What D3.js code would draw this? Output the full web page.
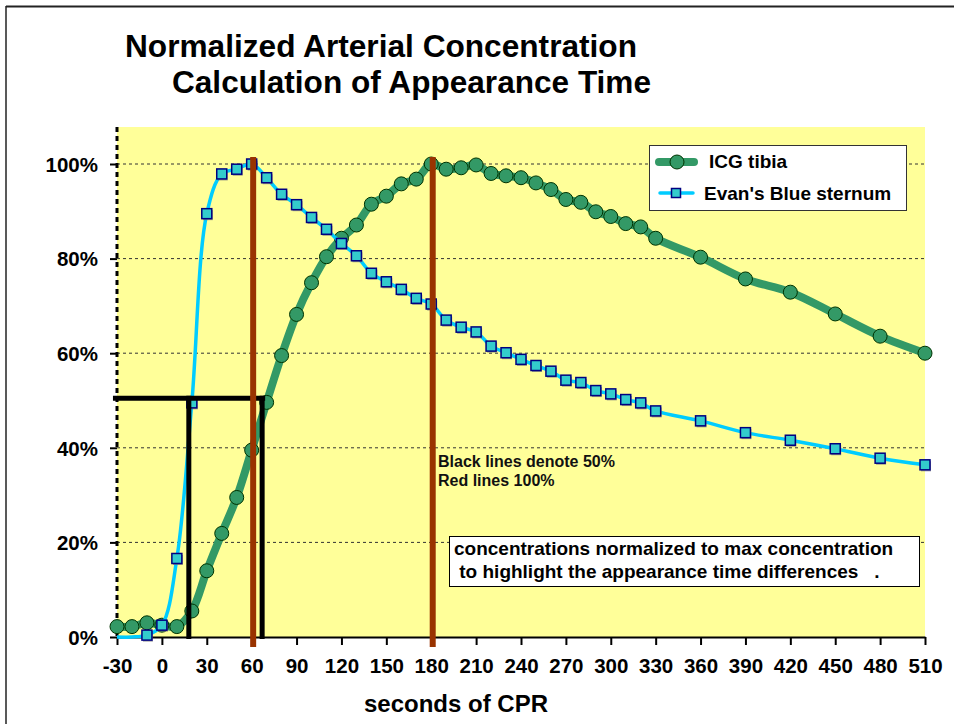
<!DOCTYPE html>
<html>
<head>
<meta charset="utf-8">
<script src="https://cdn.jsdelivr.net/npm/d3@7"></script>
<style>
  body { margin: 0; background: #fff; }
  svg { font-family: "Liberation Sans", Arial, sans-serif; }
</style>
</head>
<body>
<svg id="chart" width="954" height="724"></svg>
<script>
// time points (seconds of CPR)
const icgTimes = [-30,-20,-10,0,10,20,30,40,50,60,70,80,90,100,110,120,130,140,150,160,170,180,190,200,210,220,230,240,250,260,270,280,290,300,310,320,330,360,390,420,450,480,510];
const icgValues = [2.2,2.2,3.0,2.5,2.2,5.5,14.0,21.9,29.5,39.5,49.6,59.5,68.2,74.9,80.4,84.3,87.1,91.5,93.2,95.8,96.8,100,98.9,99.2,99.8,98.0,97.5,97.1,96.0,94.6,92.5,91.9,89.9,88.9,87.4,86.7,84.3,80.3,75.7,72.9,68.3,63.6,60.0];

const ebTimes = [-30,-20,-10,0,10,20,30,40,50,60,70,80,90,100,110,120,130,140,150,160,170,180,190,200,210,220,230,240,250,260,270,280,290,300,310,320,330,360,390,420,450,480,510];
const ebValues = [0,0,0.4,2.5,16.6,49.5,89.5,97.9,98.9,100,97.1,93.6,91.4,88.7,86.2,83.2,80.6,76.9,75.1,73.5,71.6,70.4,67.0,65.5,64.5,61.5,60.1,58.7,57.4,56.2,54.3,53.8,52.1,51.4,50.2,49.5,47.8,45.7,43.2,41.6,39.8,37.8,36.4];

const xTicks = d3.range(-30, 511, 30);
const yTicks = [0, 20, 40, 60, 80, 100];

// reference markers: 50% (black) and 100% (red) times
const halfLevel = 50.5;
const halfTimes = [18, 67];
const peakTimes = [61, 181];

const seriesNames = ["ICG tibia", "Evan's Blue sternum"];
const noteLines = ["Black lines denote 50%", "Red lines 100%"];
const boxLines = ["concentrations normalized to max concentration", " to highlight the appearance time differences   ."];

const svg = d3.select("#chart");

const x = d3.scaleLinear().domain([-30, 510]).range([117, 925]);
const y = d3.scaleLinear().domain([0, 100]).range([637, 164]);

const icg = icgTimes.map((t, i) => ({ t, v: icgValues[i] }));
const eb = ebTimes.map((t, i) => ({ t, v: ebValues[i] }));

// frame
svg.append("line").attr("x1", 6).attr("x2", 954).attr("y1", 6.5).attr("y2", 6.5)
   .attr("stroke", "#222").attr("stroke-width", 2);
svg.append("line").attr("x1", 6).attr("x2", 6).attr("y1", 6).attr("y2", 724)
   .attr("stroke", "#222").attr("stroke-width", 1.5);

// title
svg.append("text").attr("x", 125).attr("y", 57)
   .attr("font-size", 32).attr("font-weight", "bold")
   .attr("textLength", 512).attr("lengthAdjust", "spacingAndGlyphs")
   .text("Normalized Arterial Concentration");
svg.append("text").attr("x", 172).attr("y", 93)
   .attr("font-size", 32).attr("font-weight", "bold")
   .attr("textLength", 479).attr("lengthAdjust", "spacingAndGlyphs")
   .text("Calculation of Appearance Time");

// plot background
svg.append("rect").attr("x", x(-30)).attr("y", 127)
   .attr("width", x(510) - x(-30)).attr("height", y(0) - 127)
   .attr("fill", "#FFFF99");

// gridlines
svg.append("g").selectAll("line")
  .data(yTicks.filter(d => d > 0)).enter()
  .append("line")
  .attr("x1", x(-30)).attr("x2", x(510))
  .attr("y1", d => y(d)).attr("y2", d => y(d))
  .attr("stroke", "#333").attr("stroke-width", 1)
  .attr("stroke-dasharray", "3,3");

// y axis
const yAxis = svg.append("g")
  .attr("transform", `translate(${x(-30)},0)`)
  .call(d3.axisLeft(y).tickValues(yTicks).tickSize(7).tickFormat(d => d + "%"));
yAxis.select(".domain").remove();
yAxis.selectAll(".tick line").attr("stroke", "#000").attr("stroke-width", 2);
yAxis.selectAll(".tick text")
  .attr("x", -19).attr("dy", "0.36em")
  .attr("font-size", 20.5).attr("font-weight", "bold")
  .attr("font-family", "Liberation Sans, Arial, sans-serif").attr("fill", "#000");
svg.append("line")
  .attr("x1", x(-30)).attr("x2", x(-30)).attr("y1", 127).attr("y2", y(0))
  .attr("stroke", "#000").attr("stroke-width", 3).attr("stroke-dasharray", "5,4");

// x axis
const xAxis = svg.append("g")
  .attr("transform", `translate(0,${y(0)})`)
  .call(d3.axisBottom(x).tickValues(xTicks).tickSize(8).tickSizeOuter(0)
    .tickFormat(d => String(d)));
xAxis.select(".domain").attr("stroke", "#000").attr("stroke-width", 2);
xAxis.selectAll(".tick line").attr("stroke", "#000").attr("stroke-width", 2);
xAxis.selectAll(".tick text")
  .attr("y", 21).attr("dy", "0.71em")
  .attr("font-size", 20.5).attr("font-weight", "bold")
  .attr("font-family", "Liberation Sans, Arial, sans-serif").attr("fill", "#000");

svg.append("text").attr("x", 456).attr("y", 712)
   .attr("text-anchor", "middle").attr("font-size", 24).attr("font-weight", "bold")
   .text("seconds of CPR");

const lineGen = d3.line()
  .x(d => x(d.t)).y(d => y(d.v))
  .curve(d3.curveCatmullRom.alpha(0.5));

// ICG tibia
svg.append("path").datum(icg)
  .attr("d", lineGen).attr("fill", "none")
  .attr("stroke", "#339966").attr("stroke-width", 8).attr("stroke-linejoin", "round");
svg.append("g").selectAll("circle")
  .data(icg).enter()
  .append("circle")
  .attr("cx", d => x(d.t)).attr("cy", d => y(d.v)).attr("r", 7)
  .attr("fill", "#339966").attr("stroke", "#003300").attr("stroke-width", 1);

// Evan's Blue sternum
svg.append("path").datum(eb)
  .attr("d", lineGen).attr("fill", "none")
  .attr("stroke", "#00CCFF").attr("stroke-width", 3.5).attr("stroke-linejoin", "round");
const ebMarks = eb.filter(d => d.t >= -10);
svg.append("g").selectAll("rect")
  .data(ebMarks).enter()
  .append("rect")
  .attr("x", d => x(d.t) - 4).attr("y", d => y(d.v) - 3.5)
  .attr("width", 10).attr("height", 10)
  .attr("fill", "#777").attr("opacity", 0.7);
svg.append("g").selectAll("rect")
  .data(ebMarks).enter()
  .append("rect")
  .attr("x", d => x(d.t) - 5).attr("y", d => y(d.v) - 5)
  .attr("width", 10).attr("height", 10)
  .attr("fill", "#33CCCC").attr("stroke", "#000080").attr("stroke-width", 1.5);

// black 50% lines
svg.append("line")
  .attr("x1", x(-32.7)).attr("x2", x(halfTimes[1]) + 3)
  .attr("y1", y(halfLevel)).attr("y2", y(halfLevel))
  .attr("stroke", "#000").attr("stroke-width", 5);
svg.append("g").selectAll("line")
  .data(halfTimes).enter()
  .append("line")
  .attr("x1", d => x(d)).attr("x2", d => x(d))
  .attr("y1", y(halfLevel) - 2.5).attr("y2", y(0) + 2)
  .attr("stroke", "#000").attr("stroke-width", 5);

// red 100% lines
svg.append("g").selectAll("line")
  .data(peakTimes).enter()
  .append("line")
  .attr("x1", d => x(d)).attr("x2", d => x(d))
  .attr("y1", 157).attr("y2", 647)
  .attr("stroke", "#993300").attr("stroke-width", 6);

// note text
svg.append("g").selectAll("text")
  .data(noteLines).enter()
  .append("text")
  .attr("x", 438).attr("y", (d, i) => 467 + i * 19)
  .attr("font-size", 16).attr("font-weight", "bold").attr("fill", "#111")
  .text(d => d);

// annotation box
svg.append("rect").attr("x", 449.5).attr("y", 536.5).attr("width", 470).attr("height", 50)
   .attr("fill", "#fff").attr("stroke", "#000").attr("stroke-width", 1);
svg.append("g").selectAll("text")
  .data(boxLines).enter()
  .append("text")
  .attr("x", 454).attr("y", (d, i) => 555 + i * 23)
  .attr("font-size", 19).attr("font-weight", "bold")
  .attr("xml:space", "preserve").style("white-space", "pre")
  .text(d => d);

// legend
const legend = svg.append("g");
legend.append("rect").attr("x", 649.5).attr("y", 145.5).attr("width", 257).attr("height", 65)
  .attr("fill", "#fff").attr("stroke", "#333").attr("stroke-width", 1);
legend.append("line").attr("x1", 659).attr("x2", 694).attr("y1", 162).attr("y2", 162)
  .attr("stroke", "#339966").attr("stroke-width", 8).attr("stroke-linecap", "round");
legend.append("circle").attr("cx", 677).attr("cy", 162).attr("r", 7)
  .attr("fill", "#339966").attr("stroke", "#003300");
legend.append("line").attr("x1", 660).attr("x2", 693).attr("y1", 193).attr("y2", 193)
  .attr("stroke", "#00CCFF").attr("stroke-width", 3.5).attr("stroke-linecap", "round");
legend.append("rect").attr("x", 671.5).attr("y", 188.5).attr("width", 9).attr("height", 9)
  .attr("fill", "#33CCCC").attr("stroke", "#000080").attr("stroke-width", 1.5);
legend.selectAll("text.lbl")
  .data(seriesNames).enter()
  .append("text").attr("class", "lbl")
  .attr("x", (d, i) => i === 0 ? 709 : 704)
  .attr("y", (d, i) => i === 0 ? 168 : 200)
  .attr("font-size", 19).attr("font-weight", "bold")
  .text(d => d);
</script>
</body>
</html>
